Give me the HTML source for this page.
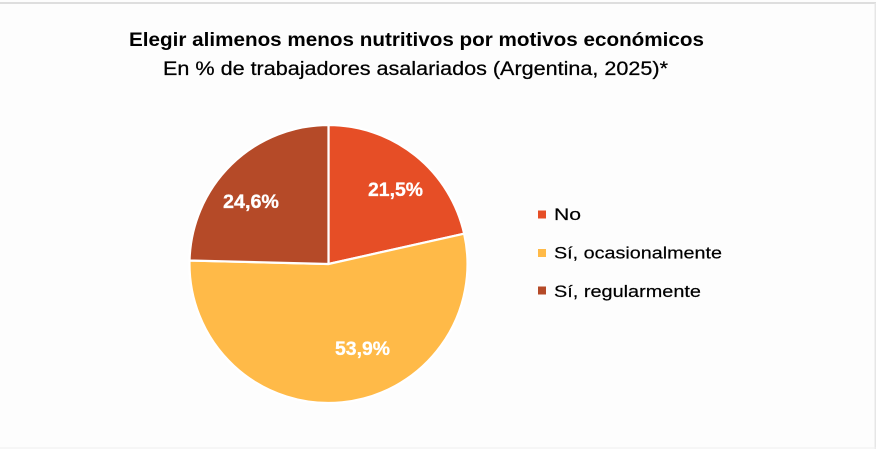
<!DOCTYPE html>
<html>
<head>
<meta charset="utf-8">
<style>
html,body{margin:0;padding:0;background:#fdfdfd;}
body{width:876px;height:449px;overflow:hidden;position:relative;}
svg{position:absolute;left:0;top:0;}
</style>
</head>
<body>
<svg width="876" height="449" viewBox="0 0 876 449" xmlns="http://www.w3.org/2000/svg">
  <rect x="0" y="0" width="876" height="449" fill="#fdfdfd"/>
  <rect x="0" y="2" width="876" height="2" fill="#dedede"/>
  <rect x="874.5" y="3" width="1.5" height="446" fill="#e6e6e6"/>
  <rect x="0" y="447.5" width="876" height="1" fill="#f0f0f0"/>

  <text x="129" y="46" font-family="Liberation Sans, sans-serif" font-weight="bold" font-size="19.5" fill="#000" textLength="575" lengthAdjust="spacingAndGlyphs">Elegir alimenos menos nutritivos por motivos económicos</text>
  <text x="163" y="75" font-family="Liberation Sans, sans-serif" font-size="19.5" fill="#000" stroke="#000" stroke-width="0.25" textLength="505" lengthAdjust="spacingAndGlyphs">En % de trabajadores asalariados (Argentina, 2025)*</text>

  <g stroke="#ffffff" stroke-width="2.2" stroke-linejoin="round">
    <path d="M328.5,264 L328.5,125 A139,139 0 0,1 464.15,233.7 Z" fill="#E64E26"/>
    <path d="M328.5,264 L464.15,233.7 A139,139 0 1,1 189.54,260.5 Z" fill="#FFBA48"/>
    <path d="M328.5,264 L189.54,260.5 A139,139 0 0,1 328.5,125 Z" fill="#B54A28"/>
  </g>

  <g font-family="Liberation Sans, sans-serif" font-weight="bold" font-size="19.5" fill="#ffffff" stroke="#ffffff" stroke-width="0.3">
    <text x="368" y="196" textLength="55" lengthAdjust="spacingAndGlyphs">21,5%</text>
    <text x="223" y="208" textLength="56" lengthAdjust="spacingAndGlyphs">24,6%</text>
    <text x="335" y="355" textLength="55" lengthAdjust="spacingAndGlyphs">53,9%</text>
  </g>

  <rect x="538" y="210.5" width="8" height="8" fill="#E64E26"/>
  <rect x="538" y="249" width="8" height="8" fill="#FFBA48"/>
  <rect x="538" y="286.5" width="8" height="8" fill="#B54A28"/>
  <g font-family="Liberation Sans, sans-serif" font-size="17" fill="#000" stroke="#000" stroke-width="0.2">
    <text x="554" y="220" textLength="27" lengthAdjust="spacingAndGlyphs">No</text>
    <text x="554" y="258.5" textLength="168" lengthAdjust="spacingAndGlyphs">Sí, ocasionalmente</text>
    <text x="554" y="297" textLength="147" lengthAdjust="spacingAndGlyphs">Sí, regularmente</text>
  </g>
</svg>
</body>
</html>
